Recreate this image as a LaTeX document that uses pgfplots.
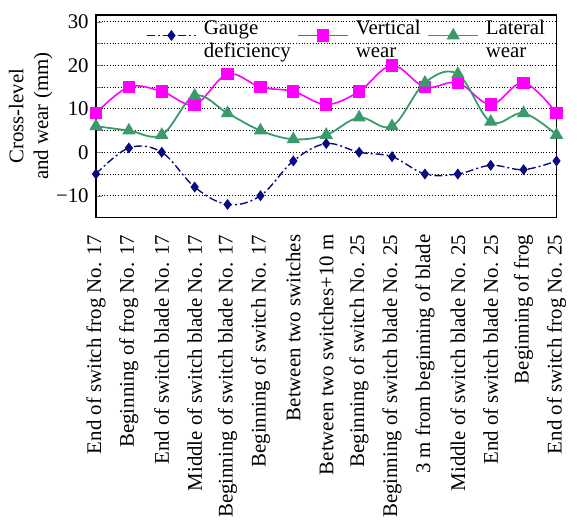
\documentclass[border={1pt 2pt 2pt 4pt}]{standalone}
\usepackage{pgfplots}
\pgfplotsset{compat=1.18}
\usepackage{fontspec}
\setmainfont{Liberation Serif}
\definecolor{gnavy}{RGB}{10,10,128}
\definecolor{vmag}{RGB}{255,0,255}
\definecolor{lgreen}{RGB}{58,154,106}
\begin{document}
\fontsize{10.5}{12}\selectfont
\begin{tikzpicture}
\begin{axis}[
  width=232pt, height=102pt, scale only axis,
  xmin=0, xmax=14, ymin=-15, ymax=31.6,
  xtick={0,...,14},
  xticklabels={End of switch frog No. 17,Beginning of frog No. 17,End of switch blade No. 17,Middle of switch blade No. 17,Beginning of switch blade No. 17,Beginning of switch No. 17,Between two switches,Between two switches+10 m,Beginning of switch No. 25,Beginning of switch blade No. 25,3 m from beginning of blade,Middle of switch blade No. 25,End of switch blade No. 25,Beginning of frog,End of switch frog No. 25},
  x tick label style={rotate=90, anchor=east, font=\fontsize{10.5}{12}\selectfont},
  xticklabel shift=5pt,
  x tick style={draw=none},
  ytick={-10,0,10,20,30},
  yticklabels={−10,0,10,20,30},
  minor ytick={-5,5,15,25},
  ytick pos=left,
  tick align=inside,
  major tick length=3pt, minor tick length=3pt,
  ymajorgrids, yminorgrids,
  major grid style={black, densely dotted, line width=0.5pt},
  minor grid style={black, densely dotted, line width=0.5pt},
  yticklabel style={font=\fontsize{10.5}{12}\selectfont},
  ylabel={Cross-level\\and wear (mm)},
  ylabel style={align=center, font=\fontsize{10.5}{12.5}\selectfont},
  ylabel shift=-5.5pt,
  axis line style={line width=0.8pt},
  legend style={draw=none, fill=none, at={(0.546,1.015)}, anchor=north,
    font=\fontsize{10.5}{11.5}\selectfont, column sep=1.5pt,
    cells={align=left}},
  legend columns=3,
  legend image code/.code={
    \draw[#1, mark=none] (0pt,2.5pt) -- (25pt,2.5pt);
    \draw[#1, only marks] plot coordinates {(12.5pt,2.5pt)};
  },
]
\addplot[color=gnavy, line width=0.7pt, dash pattern=on 4pt off 1.5pt on 1pt off 1.5pt, smooth, tension=0.6,
  mark=diamond*, mark size=2.2pt, mark options={solid, fill=gnavy}]
  coordinates {(0,-5)(1,1)(2,0)(3,-8)(4,-12)(5,-10)(6,-2)(7,2)(8,0)(9,-1)(10,-5)(11,-5)(12,-3)(13,-4)(14,-2)};
\addlegendentry{Gauge\\deficiency}
\addplot[color=vmag, line width=0.8pt, smooth, tension=0.6,
  mark=square*, mark size=2.7pt, mark options={solid, fill=vmag}]
  coordinates {(0,9)(1,15)(2,14)(3,11)(4,18)(5,15)(6,14)(7,11)(8,14)(9,20)(10,15)(11,16)(12,11)(13,16)(14,9)};
\addlegendentry{Vertical\\wear}
\addplot[color=lgreen, line width=0.9pt, smooth, tension=0.6,
  mark=triangle*, mark size=3pt, mark options={solid, fill=lgreen}]
  coordinates {(0,6)(1,5)(2,4)(3,13)(4,9)(5,5)(6,3)(7,4)(8,8)(9,6)(10,16)(11,18)(12,7)(13,9)(14,4)};
\addlegendentry{Lateral\\wear}
\end{axis}
\end{tikzpicture}
\end{document}
